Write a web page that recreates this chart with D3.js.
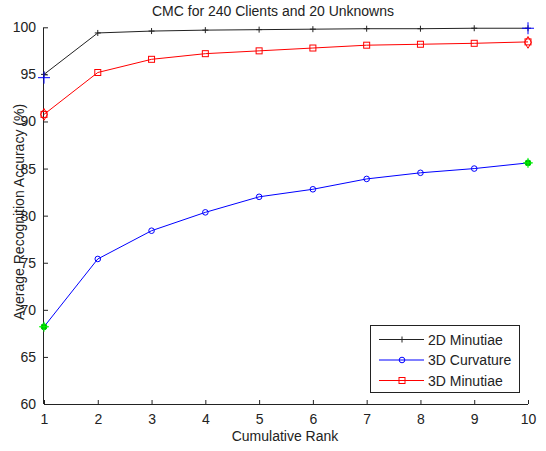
<!DOCTYPE html>
<html><head><meta charset="utf-8">
<script src="https://cdn.jsdelivr.net/npm/d3@7"></script>
<style>body{margin:0;background:#fff;} svg{display:block;font-family:"Liberation Sans",Arial,sans-serif;}</style>
</head><body><svg id="c" width="546" height="451"></svg>
<script>
const ranks = [1,2,3,4,5,6,7,8,9,10];
const minutiae2D = [95.0,99.4,99.6,99.7,99.75,99.8,99.85,99.85,99.9,99.9];
const curvature3D = [68.2,75.4,78.4,80.35,82.0,82.8,83.9,84.55,85.0,85.6];
const minutiae3D = [90.75,95.2,96.6,97.2,97.5,97.8,98.1,98.2,98.3,98.45];
const seriesNames = ["2D Minutiae","3D Curvature","3D Minutiae"];
const yTicks = [60,65,70,75,80,85,90,95,100];
const blueMarks = [[1,94.65],[10,99.9]];
const redMarks = [[1,90.75],[10,98.4]];
const greenMarks = [[1,68.2],[10,85.6]];

const svg = d3.select("#c");
const x = d3.scaleLinear().domain([1,10]).range([44,528]);
const y = d3.scaleLinear().domain([60,100]).range([404,27.3]);
const fs = 14;

svg.append("text").attr("x",273).attr("y",16).attr("text-anchor","middle").attr("font-size",fs).attr("fill","#222").text("CMC for 240 Clients and 20 Unknowns");

const xa = svg.append("g").attr("transform","translate(0,404)").call(d3.axisBottom(x).tickValues(ranks).tickSize(-4).tickPadding(10).tickFormat(d3.format("d")));
const ya = svg.append("g").attr("transform","translate(44,0)").call(d3.axisLeft(y).tickValues(yTicks).tickSize(-4).tickPadding(8));
[xa,ya].forEach(a=>{a.selectAll("path").attr("stroke","#222");a.selectAll("text").attr("font-size",fs).attr("fill","#222").attr("font-family","Liberation Sans, Arial, sans-serif");a.selectAll("line").attr("stroke","#222");});
xa.select("path").attr("d","M44,0.5H528");
ya.select("path").attr("d","M-0.5,27.3V404");
xa.selectAll(".tick line").attr("y2",-4);

svg.append("text").attr("x",285).attr("y",441).attr("text-anchor","middle").attr("font-size",fs).attr("fill","#222").text("Cumulative Rank");
svg.append("text").attr("transform","translate(24,212) rotate(-90)").attr("text-anchor","middle").attr("font-size",fs).attr("fill","#222").text("Average Recognition Accuracy (%)");

const line = d3.line().x((d,i)=>x(ranks[i])).y(d=>y(d));
function plus(g, cx, cy, s, col){ g.append("path").attr("d",`M${cx-s},${cy}H${cx+s}M${cx},${cy-s}V${cy+s}`).attr("stroke",col).attr("stroke-width",1).attr("fill","none"); }

// 2D minutiae
svg.append("path").datum(minutiae2D).attr("d",line).attr("fill","none").attr("stroke","#222").attr("stroke-width",1);
const gb = svg.append("g");
minutiae2D.forEach((v,i)=>plus(gb,x(ranks[i]),y(v),3,"#222"));
// 3D curvature
svg.append("path").datum(curvature3D).attr("d",line).attr("fill","none").attr("stroke","#0000ff").attr("stroke-width",1);
svg.append("g").selectAll("circle").data(curvature3D).join("circle").attr("cx",(d,i)=>x(ranks[i])).attr("cy",d=>y(d)).attr("r",2.8).attr("fill","none").attr("stroke","#0000ff").attr("stroke-width",1);
// 3D minutiae
svg.append("path").datum(minutiae3D).attr("d",line).attr("fill","none").attr("stroke","#ff0000").attr("stroke-width",1);
svg.append("g").selectAll("rect").data(minutiae3D).join("rect").attr("x",(d,i)=>x(ranks[i])-3).attr("y",d=>y(d)-3).attr("width",6).attr("height",6).attr("fill","none").attr("stroke","#ff0000").attr("stroke-width",1);

// highlight markers
const gh = svg.append("g");
blueMarks.forEach(d=>plus(gh,x(d[0]),y(d[1]),6,"#0000ff"));
redMarks.forEach(d=>gh.append("path").attr("d",d3.symbol(d3.symbolDiamond,40)()).attr("transform",`translate(${x(d[0])},${y(d[1])})`).attr("fill","none").attr("stroke","#ff0000").attr("stroke-width",1));
greenMarks.forEach(d=>{gh.append("circle").attr("cx",x(d[0])).attr("cy",y(d[1])).attr("r",3).attr("fill","#00aa00").attr("stroke","#00dd00");plus(gh,x(d[0]),y(d[1]),5,"#00ff00");});

// legend
const lg = svg.append("g");
lg.append("rect").attr("x",370.5).attr("y",325.5).attr("width",149).attr("height",67).attr("fill","#fff").attr("stroke","#222");
const cols = ["#222","#0000ff","#ff0000"];
const rowsY = [339.5,360,380.5];
seriesNames.forEach((n,i)=>{
  lg.append("line").attr("x1",379).attr("x2",424).attr("y1",rowsY[i]).attr("y2",rowsY[i]).attr("stroke",cols[i]);
  if(i===0) plus(lg,402,rowsY[i],3,cols[i]);
  if(i===1) lg.append("circle").attr("cx",402).attr("cy",rowsY[i]).attr("r",2.8).attr("fill","none").attr("stroke",cols[i]);
  if(i===2) lg.append("rect").attr("x",399).attr("y",rowsY[i]-3).attr("width",6).attr("height",6).attr("fill","none").attr("stroke",cols[i]);
  lg.append("text").attr("x",428).attr("y",rowsY[i]+5).attr("font-size",fs).attr("fill","#222").text(n);
});
</script></body></html>
